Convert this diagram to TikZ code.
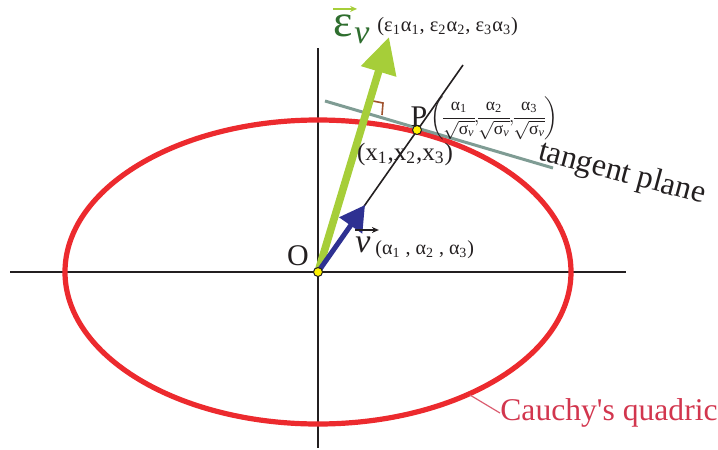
\documentclass[tikz,border=0pt]{standalone}
\usepackage{fontspec}
\usepackage{amsmath}
\setmainfont{Liberation Serif}
\usetikzlibrary{arrows.meta,positioning}
\definecolor{ink}{HTML}{231F20}
\definecolor{quadred}{HTML}{EC2A2E}
\definecolor{epsarrow}{HTML}{A6CE39}
\definecolor{epsgreen}{HTML}{2F6E2F}
\definecolor{vecblue}{HTML}{2E3192}
\definecolor{tanline}{HTML}{7F9C94}
\definecolor{rightbrown}{HTML}{A0522D}
\definecolor{quadtext}{HTML}{D2364E}
\definecolor{dotyellow}{HTML}{FFF200}
\tikzset{
  axis/.style={draw=ink, line width=1pt},
  quadric/.style={draw=quadred, line width=2.6pt},
  normal/.style={draw=ink, line width=0.8pt},
  tangent/.style={draw=tanline, line width=1.5pt},
  epsvec/.style={draw=epsarrow, line width=3.8pt,
    -{Triangle[length=18pt,width=17.5pt]}},
  vvec/.style={draw=vecblue, line width=2.5pt,
    -{Triangle[length=12.5pt,width=13.5pt]}},
  overarrow/.style={line width=0.6pt, -{Stealth[length=3.5pt,width=3pt]}},
  rightmark/.style={draw=rightbrown, line width=0.8pt},
  dot/.style={circle, draw=ink, fill=dotyellow, minimum size=4.5pt,
    inner sep=0pt, line width=0.5pt},
  label/.style={text=ink, inner sep=0pt},
  pointer/.style={draw=quadtext!80, line width=0.6pt},
}
\newcommand{\sqv}{\sqrt{\text{σ\textsubscript{\itshape v}}}}

\begin{document}
\begin{tikzpicture}[x=0.5pt,y=-0.5pt]
\useasboundingbox (0,0) rectangle (718,450);

% points
\coordinate (O) at (318,272);
\coordinate (P) at (417,130);
\coordinate (xl) at (10,272);
\coordinate (xr) at (626,272);
\coordinate (yt) at (318,48);
\coordinate (yb) at (318,448);
\coordinate (nend) at (463,65);
\coordinate (t1) at (325,101);
\coordinate (t2) at (553,168);
\coordinate (etip) at (389,37);
\coordinate (vtip) at (365,205);
\coordinate (qpt) at (470,395);

% axes and quadric
\draw[axis] (xl) -- (xr);
\draw[axis] (yt) -- (yb);
\draw[quadric] (O) ellipse [x radius=253, y radius=152];

% normal line, tangent plane, vectors
\draw[normal] (O) -- (nend);
\draw[tangent] (t1) -- (t2);
\draw[rightmark] (373,101) -- (383,103) -- (382,115);
\draw[epsvec] (O) -- (etip);
\draw[vvec] (O) -- (vtip);
\node[dot] (Odot) at (O) {};
\node[dot] (Pdot) at (P) {};

% labels
\node[label, text=epsgreen, anchor=base west] (eps) at (333,36)
  {\fontsize{23}{25}\selectfont ε};
\node[label, text=epsgreen, anchor=base west] (epssub) at (354,43)
  {\fontsize{17}{19}\selectfont\itshape v};
\draw[overarrow, draw=epsarrow] ([yshift=2.5pt]eps.north west) -- ([xshift=2pt,yshift=2.5pt]eps.north east);
\node[label, anchor=west] (epscoord) at (377,27) {\fontsize{10.2}{12}\selectfont
  (ε\textsubscript{1}α\textsubscript{1}, ε\textsubscript{2}α\textsubscript{2}, ε\textsubscript{3}α\textsubscript{3})};
\node[label] (Plab) at (419,117) {\fontsize{15}{17}\selectfont P};
\node[label, anchor=west] (Pcoord) at (430,118) {\fontsize{8.8}{10}\selectfont
  $\left(\!\dfrac{\text{α\textsubscript{1}}}{\sqv}\!{,}\!
  \dfrac{\text{α\textsubscript{2}}}{\sqv}\!{,}\!
  \dfrac{\text{α\textsubscript{3}}}{\sqv}\!\right)$};
\node[label] (xcoord) at (405,154) {\fontsize{12.5}{14}\selectfont
  (x\textsubscript{1},x\textsubscript{2},x\textsubscript{3})};
\node[label] (Olab) at (298,256) {\fontsize{15}{17}\selectfont O};
\node[label, anchor=base west] (vlab) at (355,252) {\fontsize{17}{19}\selectfont\itshape v};
\draw[overarrow, draw=ink] ([yshift=3pt]vlab.north west) -- ([xshift=4pt,yshift=3pt]vlab.north east);
\node[label, anchor=west] (vcoord) at (375,250) {\fontsize{10}{12}\selectfont
  (α\textsubscript{1} , α\textsubscript{2} , α\textsubscript{3})};
\node[label, rotate=-15] (tanlab) at (622,174) {\fontsize{16}{18}\selectfont tangent plane};
\node[label, text=quadtext, anchor=west] (quadlab) at (500,413) {\fontsize{15.8}{18}\selectfont Cauchy\textquotesingle s quadric};
\draw[pointer] (quadlab.west) -- (qpt);

\end{tikzpicture}
\end{document}
